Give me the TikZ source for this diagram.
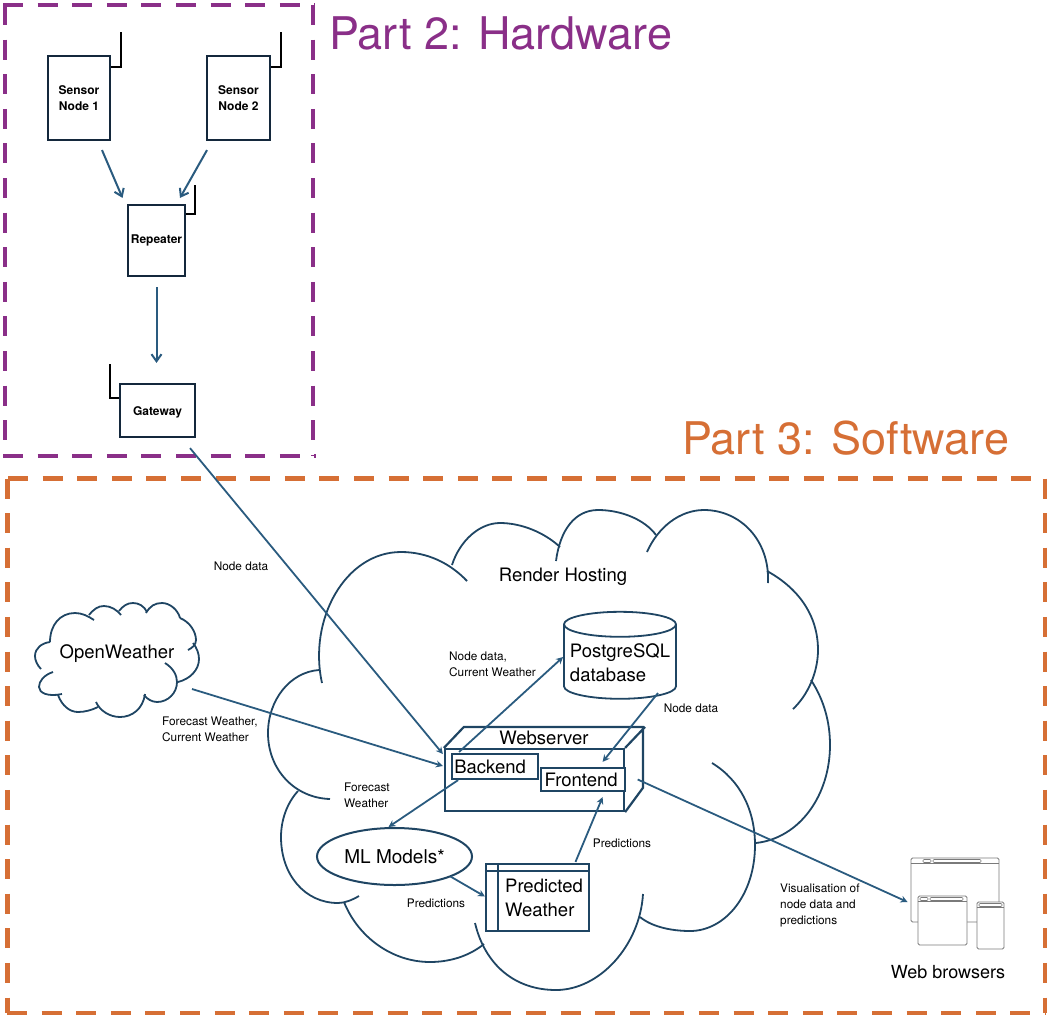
\documentclass[tikz,border=0pt]{standalone}
\usepackage{fontspec}
\setmainfont{TeX Gyre Heros}
\usepackage{tikz}
\usetikzlibrary{arrows.meta,shapes.geometric}
\definecolor{hwpurple}{HTML}{8A2F88}
\definecolor{swrange}{HTML}{D66F35}
\definecolor{linkblue}{HTML}{2A5B7F}
\definecolor{boxnavy}{HTML}{14283C}
\definecolor{cloudblue}{HTML}{1F4563}
\definecolor{iconpen}{HTML}{7A7A7A}

\begin{document}
\begin{tikzpicture}[x=1pt, y=-1pt,
    part/.style = {anchor=west, inner sep=0pt, font=\fontsize{45}{50}\selectfont},
    hwzone/.style = {hwpurple, line width=4.4pt, dash pattern=on 20pt off 14.6pt},
    swzone/.style = {swrange, line width=4.4pt, dash pattern=on 20pt off 14.6pt},
    device/.style = {draw=boxnavy, line width=2.2pt, inner sep=0pt, align=center, font=\fontsize{12}{16}\selectfont\bfseries},
    antenna/.style = {black, line width=1.8pt},
    hwlink/.style = {linkblue, line width=2pt, -{Straight Barb[length=7pt,width=10pt]}},
    flow/.style = {linkblue, line width=1.8pt, -{Stealth[length=7pt,width=7pt]}},
    puffy/.style = {cloudblue, line width=1.8pt},
    soft/.style = {draw=cloudblue, line width=2.2pt, inner sep=0pt, fill=white, font=\fontsize{18.5}{24}\selectfont},
    big/.style = {inner sep=0pt, font=\fontsize{18.5}{24}\selectfont},
    note/.style = {inner sep=0pt, align=left, font=\fontsize{11.8}{16}\selectfont},
    window/.style = {draw=iconpen, line width=0.9pt, fill=white, rounded corners=1.5pt, inner sep=0pt},
    pill/.style = {draw=iconpen, line width=0.6pt, rounded corners=1pt}]
    \useasboundingbox (0,0) rectangle (1053,1021);

    % dashed zones
    \node[part, hwpurple] (part2) at (329,33) {Part 2: Hardware};
    \node[part, swrange] (part3) at (682,438) {Part 3: Software};
    \draw[hwzone] (3,5) -- (315,5) (5,5) -- (5,456) (313,5) -- (313,456) (3,456) -- (316,456);
    \draw[swzone] (8,478.5) -- (1046,478.5) (7.5,478.5) -- (7.5,1013) (1045,478.5) -- (1045,1013) (7,1013) -- (1046,1013);

    % hardware
    \node[device, minimum width=62pt, minimum height=84pt] (sensor1) at (79,98) {Sensor\\Node 1};
    \node[device, minimum width=63pt, minimum height=84pt] (sensor2) at (238.5,98) {Sensor\\Node 2};
    \node[device, minimum width=57pt, minimum height=71pt] (repeater) at (156.5,240.5) {Repeater};
    \node[device, minimum width=75pt, minimum height=53pt, text height=13pt] (gateway) at (157.5,410.5) {Gateway};
    \draw[antenna] ([shift={(0,12)}]sensor1.north east) -- ++(10,0) -- ++(0,-35);
    \draw[antenna] ([shift={(0,12)}]sensor2.north east) -- ++(10,0) -- ++(0,-35);
    \draw[antenna] ([shift={(0,10)}]repeater.north east) -- ++(9,0) -- ++(0,-29);
    \draw[antenna] ([shift={(0,15)}]gateway.north west) -- ++(-9,0) -- ++(0,-34);
    \draw[hwlink] ([shift={(23,9)}]sensor1.south) to ([shift={(-34,-6)}]repeater.north);
    \draw[hwlink] ([shift={(-31.5,9)}]sensor2.south) to ([shift={(23.5,-6)}]repeater.north);
    \draw[hwlink] ([shift={(0,10)}]repeater.south) to ([shift={(-1,-20)}]gateway.north);

    % render hosting cloud
    \draw[puffy] (322,683) .. controls (308,620) and (345,552) .. (401,552) .. controls (427,552) and (450,563) .. (467,581);
    \draw[puffy] (452,565) .. controls (460,540) and (480,523) .. (500,523) .. controls (522,523) and (545,533) .. (560,547);
    \draw[puffy] (556,561) .. controls (560,530) and (575,510) .. (598,510) .. controls (622,510) and (645,520) .. (656,535);
    \draw[puffy] (647,552) .. controls (658,527) and (680,510) .. (704,510) .. controls (740,510) and (770,540) .. (768,583);
    \draw[puffy] (767,571) .. controls (798,588) and (818,615) .. (818,650) .. controls (818,672) and (808,695) .. (793,709);
    \draw[puffy] (811,680) .. controls (824,700) and (830,722) .. (830,745) .. controls (830,795) and (800,838) .. (756,843);
    \draw[puffy] (712,763) .. controls (740,780) and (755,810) .. (755,845) .. controls (755,895) and (725,931) .. (690,931) .. controls (672,931) and (652,927) .. (640,917);
    \draw[puffy] (643,894) .. controls (640,945) and (600,990) .. (556,990) .. controls (515,990) and (485,965) .. (475,923);
    \draw[puffy] (484,944) .. controls (468,957) and (448,962) .. (430,962) .. controls (392,962) and (358,937) .. (344,902);
    \draw[puffy] (359,896) .. controls (352,900) and (345,903) .. (338,903) .. controls (305,903) and (281,875) .. (281,837) .. controls (281,820) and (287,803) .. (298,791);
    \draw[puffy] (330,799) .. controls (295,798) and (268,770) .. (268,733) .. controls (268,700) and (290,672) .. (319,670);
    \node[big] (render) at (563,576.5) {Render Hosting};

    % openweather cloud
    \draw[puffy] (50,642) .. controls (50,625) and (60,613) .. (75,613) .. controls (82,613) and (88,616) .. (94,620);
    \draw[puffy] (89,615) .. controls (94,609) and (98,606) .. (104,606) .. controls (111,606) and (117,610) .. (121,615);
    \draw[puffy] (119,611) .. controls (123,606) and (127,603) .. (133,603) .. controls (139,603) and (144,606) .. (147,612);
    \draw[puffy] (146,613) .. controls (150,606) and (155,603) .. (162,603) .. controls (170,603) and (178,610) .. (180,618);
    \draw[puffy] (180,618) .. controls (190,622) and (196,632) .. (196,640) .. controls (196,645) and (192,648) .. (188,650);
    \draw[puffy] (193,643) .. controls (197,648) and (199,654) .. (199,659) .. controls (199,670) and (190,679) .. (178,682);
    \draw[puffy] (165,663) .. controls (173,668) and (177,675) .. (177,682) .. controls (177,693) and (168,702) .. (157,702) .. controls (152,702) and (147,699) .. (144,695);
    \draw[puffy] (145,694) .. controls (143,709) and (132,717) .. (120,717) .. controls (110,717) and (100,711) .. (96,702);
    \draw[puffy] (98,707) .. controls (92,710) and (85,712) .. (78,712) .. controls (70,712) and (62,706) .. (58,695);
    \draw[puffy] (53,672) .. controls (44,675) and (39,681) .. (39,687) .. controls (39,693) and (48,697) .. (62,694);
    \draw[puffy] (41,669) .. controls (37,665) and (35,660) .. (35,656) .. controls (35,648) and (42,643) .. (50,642);
    \node[big] (openweather) at (117,653.5) {OpenWeather};

    % software
    \node[draw=cloudblue, line width=2.2pt, minimum width=179pt, minimum height=62pt] (webserver) at (534.5,780) {};
    \draw[cloudblue, line width=2.2pt] (webserver.north west) -- ++(20,-21) -- ++(179,0) -- ++(0,61) -- (webserver.south east)
        (webserver.north east) -- ++(20,-21);
    \node[big] (webname) at (544,738) {Webserver};
    \node[soft, minimum width=86pt, minimum height=25pt, anchor=west] (backend) at (451,766.5) {\hspace{-10pt}Backend};
    \node[soft, minimum width=84pt, minimum height=23pt, anchor=west] (frontend) at (539.5,779.5) {\hspace{-3pt}Frontend};
    \node[cylinder, shape border rotate=90, aspect=0.25, draw=cloudblue, line width=1.8pt, minimum width=112pt, minimum height=87pt, inner sep=0pt, align=left, font=\fontsize{18.5}{24}\selectfont] (postgres) at (620,662) {\rule{0pt}{16pt}PostgreSQL\\database};
    \node[ellipse, draw=cloudblue, line width=2pt, minimum width=155pt, minimum height=57pt, inner sep=0pt, font=\fontsize{19}{24}\selectfont] (mlmodels) at (394.5,856.5) {ML Models*};
    \node[draw=cloudblue, line width=2.2pt, minimum width=103pt, minimum height=67pt, inner sep=0pt, align=left, font=\fontsize{18.5}{24}\selectfont] (predicted) at (537.5,897.5) {\hspace{13pt}Predicted\\\hspace{13pt}Weather};
    \draw[cloudblue, line width=1.6pt] ([shift={(13,0)}]predicted.north west) -- ([shift={(13,0)}]predicted.south west)
        ([shift={(0,8)}]predicted.north west) -- ([shift={(0,8)}]predicted.north east);

    % browsers
    \node[window, minimum width=88pt, minimum height=64pt] (browser) at (955,890) {};
    \draw[iconpen, line width=0.7pt] (browser.north west) ++(0,6) -- ++(88,0);
    \draw[pill] (923,859.5) rectangle (931,862.5) (933,859.5) rectangle (981,862.5);
    \node[window, minimum width=49pt, minimum height=49pt] (browsermid) at (942.5,920.5) {};
    \draw[iconpen, line width=0.7pt] (browsermid.north west) ++(0,6) -- ++(49,0);
    \draw[pill] (920,897.5) rectangle (928,900.5) (930,897.5) rectangle (963,900.5);
    \node[window, minimum width=27pt, minimum height=47pt] (browsersmall) at (990.5,925.5) {};
    \draw[iconpen, line width=0.7pt] (browsersmall.north west) ++(0,6) -- ++(27,0);
    \draw[pill] (979,903.5) rectangle (1002,906.5);
    \node[big, font=\fontsize{18}{22}\selectfont] (browsers) at (948,972) {Web browsers};

    % connectors
    \draw[flow] ([shift={(32.5,10)}]gateway.south) to ([shift={(-1,-26)}]webserver.west);
    \draw[flow] ([shift={(75,35.5)}]openweather.center) to ([shift={(-1,-14)}]webserver.west);
    \draw[flow] ([shift={(-36,-1)}]backend.north) to ([shift={(0,-5)}]postgres.west);
    \draw[flow] ([shift={(-37,0)}]backend.south) to ([shift={(-6,0)}]mlmodels.north);
    \draw[flow] ([shift={(38,31)}]postgres.center) to ([shift={(20,-5)}]frontend.north);
    \draw[flow] ([shift={(38,-1)}]predicted.north) to ([shift={(20,5)}]frontend.south);
    \draw[flow] ([shift={(56,20)}]mlmodels.center) to ([shift={(0,-1)}]predicted.west);
    \draw[flow] ([shift={(12,0)}]frontend.east) to ([shift={(-3,12)}]browser.west);

    % notes
    \node[note] (notegateway) at (241,566) {Node data};
    \node[note, anchor=west] (noteforecast) at (162,729) {Forecast Weather,\\Current Weather};
    \node[note, anchor=west] (noteml) at (344,795) {Forecast\\Weather};
    \node[note, anchor=west] (notestore) at (449,664) {Node data,\\Current Weather};
    \node[note] (notefront) at (691,708) {Node data};
    \node[note] (notepredup) at (622,843) {Predictions};
    \node[note] (notepredleft) at (436,903) {Predictions};
    \node[note, anchor=west] (notebrowser) at (780,905) {Visualisation of\\node data and\\predictions};
\end{tikzpicture}
\end{document}
